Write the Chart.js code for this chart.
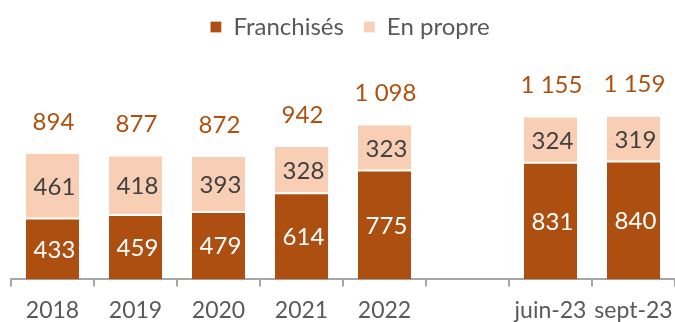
<!DOCTYPE html>
<html>
<head>
<meta charset="utf-8">
<script src="https://cdn.jsdelivr.net/npm/chart.js@4.4.1/dist/chart.umd.min.js"></script>
<style>
  html, body { margin: 0; padding: 0; background: #fff; overflow: hidden; }
  #wrap { width: 675px; height: 339px; position: relative; top: -5px; }
</style>
<title>Franchisés / En propre</title>
</head>
<body>
<div id="wrap"><canvas id="myChart"></canvas></div>
<script>
// periods (the blank one leaves a gap before the 2023 points)
var periods = ['2018', '2019', '2020', '2021', '2022', '', 'juin-23', 'sept-23'];
var franchises = [433, 459, 479, 614, 775, null, 831, 840];
var enPropre = [461, 418, 393, 328, 323, null, 324, 319];

var darkOrange = '#AD4F11';
var lightPeach = '#F8CEB5';
var greyText = '#595959';

function fmt(n) {
    return String(n).replace(/\B(?=(\d{3})+(?!\d))/g, ' ');
}

// nudge the legend a little to the right
var legendShift = {
    id: 'legendShift',
    afterLayout: function (chart) {
        chart.legend.left += 7;
        chart.legend.right += 7;
    }
};

// totals above each stack + values inside the segments
var totalsPlugin = {
    id: 'totals',
    afterDatasetsDraw: function (chart) {
        var ctx = chart.ctx;
        var y = chart.scales.y;
        var x = chart.scales.x;
        ctx.save();
        ctx.font = '24px Lato';
        ctx.fillStyle = '#B0500F';
        ctx.textAlign = 'center';
        ctx.textBaseline = 'middle';
        for (var i = 0; i < periods.length; i++) {
            if (franchises[i] == null) continue;
            var total = franchises[i] + enPropre[i];
            ctx.fillText(fmt(total), x.getPixelForValue(i) + 1, y.getPixelForValue(total) - 32);
        }
        chart.data.datasets.forEach(function (ds, di) {
            var meta = chart.getDatasetMeta(di);
            ctx.fillStyle = di === 0 ? '#ffffff' : '#404040';
            meta.data.forEach(function (bar, i) {
                if (ds.data[i] == null) return;
                var mid = (bar.y + bar.base) / 2;
                ctx.fillText(fmt(ds.data[i]), bar.x + 2, mid + 1);
            });
        });
        ctx.restore();
    }
};

var ctx = document.getElementById('myChart').getContext('2d');
var myChart = new Chart(ctx, {
    type: 'bar',
    data: {
        labels: periods,
        datasets: [
            {
                label: 'Franchisés',
                data: franchises,
                backgroundColor: darkOrange,
                borderColor: '#ffffff',
                borderWidth: { top: 1, left: 0, right: 0, bottom: 0 },
                borderSkipped: false,
                categoryPercentage: 1,
                barPercentage: 0.64
            },
            {
                label: 'En propre',
                data: enPropre,
                backgroundColor: lightPeach,
                borderColor: '#ffffff',
                borderWidth: { top: 0, left: 0, right: 0, bottom: 1 },
                borderSkipped: false,
                categoryPercentage: 1,
                barPercentage: 0.64
            }
        ]
    },
    options: {
        responsive: true,
        maintainAspectRatio: false,
        animation: false,
        layout: { padding: { left: 11, right: 0, top: 0, bottom: 0 } },
        scales: {
            x: {
                stacked: true,
                offset: true,
                afterFit: function (scale) {
                    // labels fit inside their categories, no side padding needed
                    scale.paddingLeft = 0;
                    scale.paddingRight = 0;
                },
                grid: {
                    offset: true,
                    drawOnChartArea: false,
                    drawTicks: true,
                    tickLength: 7,
                    color: '#A6A6A6',
                    lineWidth: 2
                },
                border: { display: true, color: '#A6A6A6', width: 2 },
                ticks: { color: greyText, font: { family: 'Lato', size: 23 }, padding: 10, maxRotation: 0, autoSkip: false }
            },
            y: {
                stacked: true,
                display: false,
                min: 0,
                max: 1640
            }
        },
        plugins: {
            legend: {
                position: 'top',
                labels: {
                    color: greyText,
                    font: { family: 'Lato', size: 24 },
                    boxWidth: 11,
                    boxHeight: 11,
                    padding: 20
                }
            },
            tooltip: { enabled: false }
        }
    },
    plugins: [totalsPlugin, legendShift]
});
</script>
</body>
</html>
